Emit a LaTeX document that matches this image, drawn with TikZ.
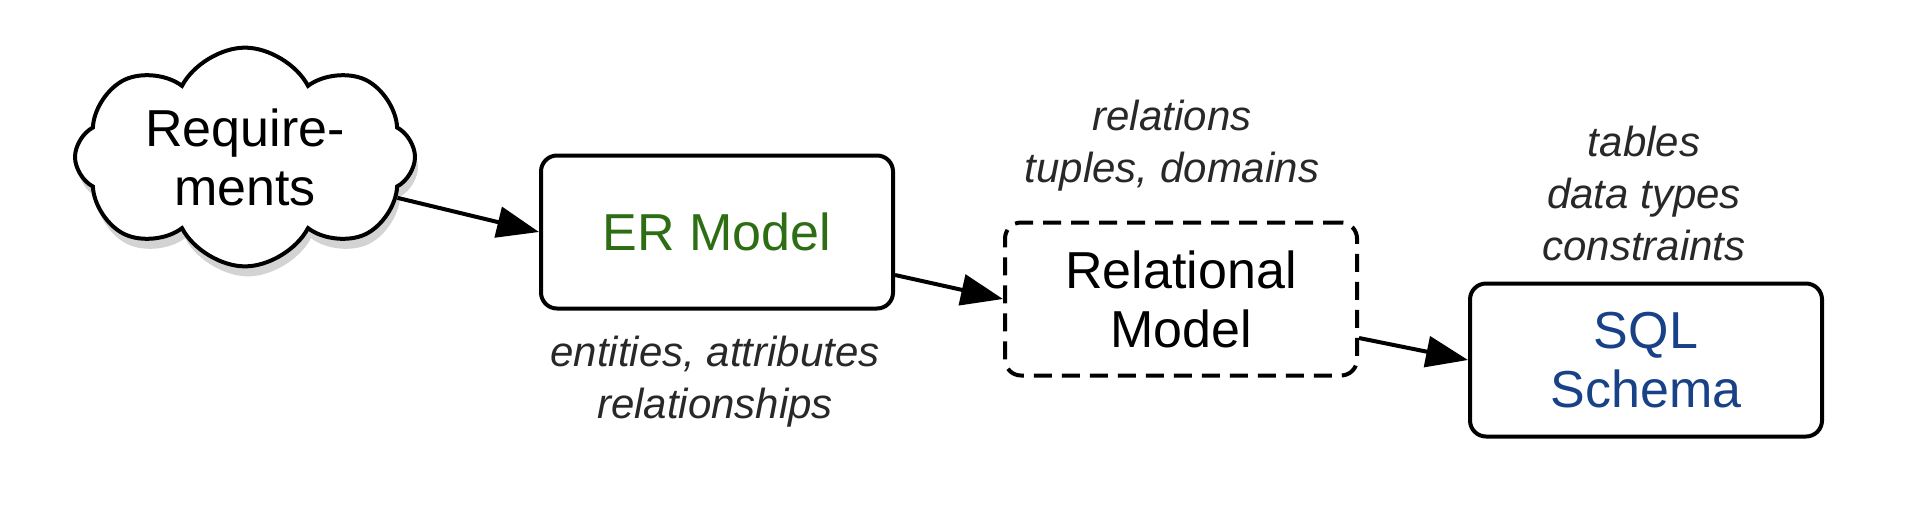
\documentclass[tikz,border=0pt]{standalone}
\usepackage{fontspec}
\setmainfont{Liberation Sans}
\usetikzlibrary{shapes.symbols,shadows,arrows.meta}
\definecolor{ergreen}{RGB}{45,110,20}
\definecolor{sqlblue}{RGB}{25,65,135}
\definecolor{lbl}{RGB}{40,40,40}
\begin{document}
\begin{tikzpicture}[x=1pt,y=-1pt,
  box/.style={draw, line width=4pt, rounded corners=16pt, minimum width=352pt, minimum height=153pt, align=center, font=\fontsize{52}{59}\selectfont, inner sep=0pt},
  dbox/.style={box, dash pattern=on 18pt off 10pt},
  lab/.style={align=center, font=\fontsize{42}{52}\selectfont\itshape, text=lbl},
  conn/.style={line width=4pt, -{Triangle[length=42pt,width=31pt]}},
  cloudbox/.style={cloud, cloud puffs=8, cloud puff arc=125, aspect=1.7, draw, line width=4pt, fill=white, minimum width=340pt, minimum height=192pt, inner sep=0pt, align=center, font=\fontsize{52}{59}\selectfont, drop shadow={shadow xshift=3pt, shadow yshift=-10pt, opacity=0.35}}
]
\useasboundingbox (0,0) rectangle (1913,515);
\node[cloudbox] (req) at (245,157) {Require-\\ments};
\node[box, text=ergreen] (er) at (717,232) {ER Model};
\node[dbox] (rel) at (1181,299) {Relational\\Model};
\node[box, text=sqlblue] (sql) at (1646,360) {SQL\\Schema};
\node[lab] (erlab) at (715,382) {entities, attributes\\relationships};
\node[lab] (rellab) at (1172,146) {relations\\tuples, domains};
\node[lab] (sqllab) at (1644,193) {tables\\data types\\constraints};
\draw[conn] (req.-15) -- (er.west);
\draw[conn] ([yshift=-43pt]er.east) -- (rel.west);
\draw[conn] ([yshift=-39pt]rel.east) -- (sql.west);
\end{tikzpicture}
\end{document}
